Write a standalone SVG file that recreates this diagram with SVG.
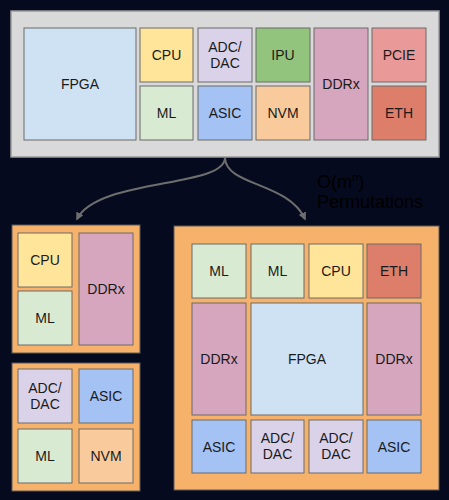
<svg xmlns="http://www.w3.org/2000/svg" width="449" height="500" viewBox="0 0 449 500">
<style>
.b{stroke:#6b6b6b;stroke-width:1}
.t{font-family:"Liberation Sans",Arial,sans-serif;font-size:14px;fill:#1a1a1a;text-anchor:middle;dominant-baseline:central}
.fpga{fill:#cfe2f3}.cpu{fill:#ffe599}.ml{fill:#d9ead3}.adc{fill:#d9d2e9}.asic{fill:#a4c2f4}.ipu{fill:#93c47d}.nvm{fill:#f9cb9c}.ddr{fill:#d5a6bd}.pcie{fill:#ea9999}.eth{fill:#dd7e6b}
.cont{fill:#f6b26b;stroke:#5a5a5a;stroke-width:1}
.conn{fill:none;stroke:#6e6e6e;stroke-width:2}
</style>
<defs>
<marker id="ah" viewBox="0 0 10 10" refX="8" refY="5" markerWidth="4" markerHeight="4" orient="auto" markerUnits="strokeWidth">
<path d="M0,0 L10,5 L0,10 z" fill="#6e6e6e"/>
</marker>
</defs>
<rect width="449" height="500" fill="#050a1e"/>

<g id="top">
<rect x="11" y="11" width="428" height="146" fill="#d9d9d9" stroke="#9a9a9a" stroke-width="1.5"/>
<g id="t-fpga"><rect class="b fpga" x="24" y="28" width="112" height="112"/><text class="t" x="80" y="84">FPGA</text></g>
<g id="t-cpu"><rect class="b cpu" x="140" y="28" width="53" height="54"/><text class="t" x="166.5" y="55">CPU</text></g>
<g id="t-ml"><rect class="b ml" x="140" y="86" width="53" height="54"/><text class="t" x="166.5" y="113">ML</text></g>
<g id="t-adc"><rect class="b adc" x="198" y="28" width="54" height="54"/><text class="t" x="225" y="47">ADC/</text><text class="t" x="225" y="63">DAC</text></g>
<g id="t-asic"><rect class="b asic" x="198" y="86" width="54" height="54"/><text class="t" x="225" y="113">ASIC</text></g>
<g id="t-ipu"><rect class="b ipu" x="256" y="28" width="54" height="54"/><text class="t" x="283" y="55">IPU</text></g>
<g id="t-nvm"><rect class="b nvm" x="256" y="86" width="54" height="54"/><text class="t" x="283" y="113">NVM</text></g>
<g id="t-ddr"><rect class="b ddr" x="314" y="28" width="54" height="112"/><text class="t" x="341" y="84">DDRx</text></g>
<g id="t-pcie"><rect class="b pcie" x="372" y="28" width="54" height="54"/><text class="t" x="399" y="55">PCIE</text></g>
<g id="t-eth"><rect class="b eth" x="372" y="86" width="54" height="54"/><text class="t" x="399" y="113">ETH</text></g>
</g>

<g id="connectors">
<path class="conn" d="M225,158 C224,188 98,178 77,219" marker-end="url(#ah)"/>
<path class="conn" d="M225,158 C226,186 288,182 305,219" marker-end="url(#ah)"/>
</g>

<text x="317" y="188" font-family="'Liberation Sans',Arial,sans-serif" font-size="18" fill="#000">O(m<tspan font-size="11" dy="-7">n</tspan><tspan dy="7">)</tspan></text>
<text x="317" y="208" font-family="'Liberation Sans',Arial,sans-serif" font-size="18" fill="#000">Permutations</text>

<g id="left-a">
<rect class="cont" x="12" y="225" width="128" height="128"/>
<g id="la-cpu"><rect class="b cpu" x="18" y="233" width="54" height="54"/><text class="t" x="45" y="260">CPU</text></g>
<g id="la-ml"><rect class="b ml" x="18" y="291" width="54" height="54"/><text class="t" x="45" y="318">ML</text></g>
<g id="la-ddr"><rect class="b ddr" x="79" y="233" width="54" height="112"/><text class="t" x="106" y="289">DDRx</text></g>
</g>

<g id="left-b">
<rect class="cont" x="12" y="363" width="128" height="128"/>
<g id="lb-adc"><rect class="b adc" x="18" y="369" width="54" height="54"/><text class="t" x="45" y="388">ADC/</text><text class="t" x="45" y="404">DAC</text></g>
<g id="lb-asic"><rect class="b asic" x="79" y="369" width="54" height="54"/><text class="t" x="106" y="396">ASIC</text></g>
<g id="lb-ml"><rect class="b ml" x="18" y="429" width="54" height="54"/><text class="t" x="45" y="456">ML</text></g>
<g id="lb-nvm"><rect class="b nvm" x="79" y="429" width="54" height="54"/><text class="t" x="106" y="456">NVM</text></g>
</g>

<g id="right">
<rect class="cont" x="174" y="226" width="265" height="264"/>
<g id="r-ml1"><rect class="b ml" x="192" y="244" width="54" height="54"/><text class="t" x="219" y="271">ML</text></g>
<g id="r-ml2"><rect class="b ml" x="251" y="244" width="53" height="54"/><text class="t" x="277.5" y="271">ML</text></g>
<g id="r-cpu"><rect class="b cpu" x="309" y="244" width="54" height="54"/><text class="t" x="336" y="271">CPU</text></g>
<g id="r-eth"><rect class="b eth" x="367" y="244" width="54" height="54"/><text class="t" x="394" y="271">ETH</text></g>
<g id="r-ddr1"><rect class="b ddr" x="192" y="303" width="54" height="112"/><text class="t" x="219" y="359">DDRx</text></g>
<g id="r-fpga"><rect class="b fpga" x="251" y="303" width="112" height="112"/><text class="t" x="307" y="359">FPGA</text></g>
<g id="r-ddr2"><rect class="b ddr" x="367" y="303" width="54" height="112"/><text class="t" x="394" y="359">DDRx</text></g>
<g id="r-asic1"><rect class="b asic" x="192" y="420" width="54" height="53"/><text class="t" x="219" y="446.5">ASIC</text></g>
<g id="r-adc1"><rect class="b adc" x="251" y="420" width="53" height="53"/><text class="t" x="277.5" y="438">ADC/</text><text class="t" x="277.5" y="454">DAC</text></g>
<g id="r-adc2"><rect class="b adc" x="309" y="420" width="54" height="53"/><text class="t" x="336" y="438">ADC/</text><text class="t" x="336" y="454">DAC</text></g>
<g id="r-asic2"><rect class="b asic" x="367" y="420" width="54" height="53"/><text class="t" x="394" y="446.5">ASIC</text></g>
</g>
</svg>
